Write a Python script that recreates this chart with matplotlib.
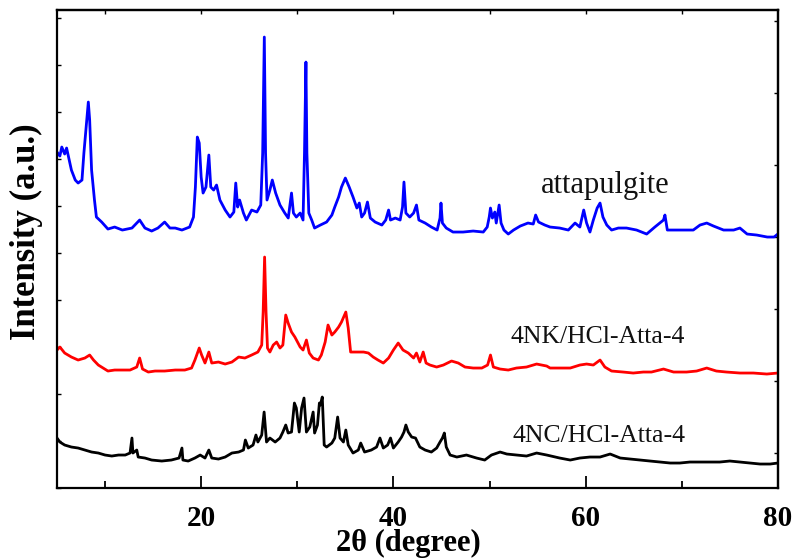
import matplotlib.pyplot as plt
import numpy as np

# 2-theta (degree) and intensity (a.u., arbitrary offset units)
tt_atta = [5.0, 5.3, 5.5, 5.8, 6.0, 6.2, 6.5, 6.9, 7.2, 7.6, 7.8, 8.1, 8.26, 8.4, 8.6, 8.9,
           9.1, 9.65, 10.3, 11.0, 11.8, 12.8, 13.6, 14.15, 14.85, 15.5, 16.2, 16.75, 17.3, 18.0,
           18.8, 19.2, 19.4, 19.6, 19.8, 20.0, 20.2, 20.5, 20.8, 21.0, 21.3, 21.6, 21.95, 22.5,
           23.0, 23.4, 23.6, 23.8, 24.0, 24.4, 24.7, 25.25, 25.8, 26.2, 26.4, 26.57, 26.7, 26.85,
           27.15, 27.4, 27.75, 28.2, 28.7, 29.06, 29.4, 29.6, 29.9, 30.3, 30.6, 30.75, 30.9, 31.0,
           31.2, 31.5, 31.8, 32.4, 33.05, 33.6, 33.9, 34.3, 34.6, 35.0, 35.4, 35.8, 36.2, 36.45,
           36.7, 37.0, 37.3, 37.6, 38.1, 38.8, 39.2, 39.5, 39.7, 40.2, 40.7, 40.95, 41.1, 41.3,
           41.7, 42.1, 42.4, 42.65, 43.3, 43.95, 44.55, 44.85, 44.95, 45.1, 45.5, 46.2, 47.25,
           48.3, 49.35, 49.76, 49.97, 50.1, 50.3, 50.55, 50.7, 51.0, 51.2, 51.5, 51.95, 52.5,
           53.2, 54.0, 54.55, 54.8, 55.1, 55.75, 56.3, 57.3, 58.2, 58.9, 59.4, 59.8, 60.1, 60.45,
           60.8, 61.2, 61.5, 61.8, 62.2, 62.7, 63.4, 64.25, 65.3, 66.35, 67.2, 68.1, 68.25, 68.5,
           69.1, 70.15, 71.2, 71.9, 72.6, 73.3, 74.35, 75.4, 76.05, 76.8, 77.8, 78.9, 79.6, 80.0]
int_atta = [336, 332, 341, 334, 340, 331, 318, 308, 305, 308, 335, 368, 386, 368, 318, 288,
            271, 266, 259, 261, 258, 260, 268, 260, 257, 260, 266, 260, 260, 258,
            261, 271, 301, 351, 345, 311, 295, 301, 333, 301, 298, 303, 288, 278,
            271, 276, 305, 281, 288, 275, 268, 278, 276, 283, 335, 451, 335, 288,
            298, 308, 295, 283, 275, 270, 295, 275, 271, 275, 268, 335, 426, 335,
            275, 268, 260, 263, 266, 273, 281, 291, 301, 310, 301, 291, 280, 285,
            271, 275, 286, 270, 266, 263, 268, 278, 268, 270, 268, 281, 306, 275,
            271, 275, 283, 268, 265, 261, 258, 270, 285, 265, 260, 256, 256,
            257, 256, 261, 271, 280, 270, 276, 265, 283, 265, 258, 254, 258,
            262, 265, 264, 273, 266, 263, 261, 260, 258, 265, 261, 278, 265, 256,
            268, 280, 285, 271, 263, 258, 260, 260, 258, 254, 261, 268, 273, 258,
            258, 258, 258, 263, 265, 262, 258, 258, 260, 254, 253, 251, 251, 254]

tt_nk = [5.0, 5.3, 5.8, 6.5, 7.2, 7.9, 8.4, 8.8, 9.3, 9.8, 10.3, 11.0, 11.7, 12.6, 13.3, 13.6,
         13.9, 14.5, 15.2, 16.2, 17.3, 18.3, 19.0, 19.35, 19.8, 20.05, 20.4, 20.8, 21.1, 21.8,
         22.5, 23.2, 23.9, 24.55, 25.25, 25.9, 26.3, 26.45, 26.6, 26.75, 26.9, 27.15, 27.5,
         27.85, 28.2, 28.5, 28.8, 29.05, 29.4, 29.75, 30.3, 30.6, 30.95, 31.25, 31.65, 32.2,
         32.5, 32.9, 33.2, 33.6, 33.9, 34.3, 34.6, 35.05, 35.3, 35.55, 35.8, 36.3, 36.9, 37.4,
         37.9, 38.4, 38.95, 39.5, 40.0, 40.5, 41.0, 41.55, 42.1, 42.4, 42.75, 43.1, 43.4, 43.8,
         44.5, 45.2, 46.05, 46.75, 47.45, 48.3, 49.2, 49.8, 50.1, 50.4, 51.1, 51.95, 52.8,
         53.85, 54.9, 55.95, 56.3, 57.3, 58.4, 59.4, 60.1, 60.8, 61.5, 62.0, 62.7, 63.9, 64.95,
         66.0, 66.85, 68.1, 69.15, 70.5, 71.55, 72.6, 73.6, 74.65, 76.05, 77.45, 78.85, 80.0]
int_nk = [138, 141, 135, 131, 128, 130, 133, 128, 123, 120, 117, 118, 118, 118, 121, 130,
          119, 116, 117, 117, 118, 118, 120, 128, 140, 133, 125, 136, 125, 126,
          124, 126, 131, 130, 133, 136, 143, 176, 231, 176, 140, 136, 143,
          146, 140, 143, 173, 165, 156, 151, 141, 138, 148, 135, 130, 128,
          133, 146, 163, 153, 156, 161, 166, 176, 160, 136, 136, 136, 136, 135,
          131, 128, 125, 130, 138, 145, 138, 135, 130, 135, 126, 136, 125, 123,
          121, 123, 127, 125, 121, 120, 120, 123, 133, 121, 119, 118, 120,
          121, 124, 122, 120, 120, 120, 123, 124, 123, 128, 121, 117, 116, 115,
          116, 116, 119, 116, 116, 117, 120, 117, 116, 115, 115, 114, 115]

tt_nc = [5.0, 5.3, 5.8, 6.5, 7.2, 7.9, 8.6, 9.3, 10.0, 10.7, 11.4, 12.1, 12.6, 12.8, 12.9,
         13.3, 13.45, 14.15, 14.85, 15.9, 16.9, 17.7, 18.0, 18.1, 18.65, 19.35, 19.9, 20.4,
         20.8, 21.1, 21.8, 22.5, 23.2, 23.9, 24.4, 24.6, 24.9, 25.4, 25.7, 25.9, 26.3, 26.55,
         26.8, 27.15, 27.7, 28.2, 28.5, 28.8, 29.05, 29.4, 29.7, 29.9, 30.2, 30.45, 30.7,
         30.95, 31.3, 31.65, 31.8, 32.1, 32.3, 32.4, 32.6, 32.8, 33.05, 33.6, 33.9, 34.2,
         34.45, 34.8, 35.05, 35.3, 35.8, 36.35, 36.6, 37.0, 37.7, 38.25, 38.6, 38.95, 39.4,
         39.7, 40.0, 40.5, 40.85, 41.1, 41.3, 41.55, 41.9, 42.3, 42.75, 43.3, 43.95, 44.5,
         44.85, 45.1, 45.3, 45.5, 45.9, 46.6, 47.6, 48.65, 49.5, 50.2, 51.1, 51.8, 52.8,
         53.85, 54.9, 55.95, 57.3, 58.4, 59.4, 60.45, 61.5, 62.55, 63.6, 64.6, 65.7, 66.7,
         67.75, 68.8, 69.8, 70.85, 71.9, 72.9, 73.95, 75.0, 76.05, 77.1, 78.15, 79.2, 80.0]
int_nc = [50, 46, 43, 41, 40, 38, 36, 35, 33, 32, 33, 33, 35, 50, 35,
          38, 31, 30, 28, 27, 28, 30, 40, 28, 27, 30, 33, 30,
          38, 30, 29, 31, 35, 36, 38, 48, 40, 43, 53, 46, 53, 76,
          46, 50, 46, 50, 56, 63, 55, 56, 85, 80, 56, 80, 90,
          56, 61, 76, 55, 63, 85, 83, 91, 43, 41, 45, 50, 71,
          50, 46, 58, 43, 35, 38, 45, 36, 38, 41, 50, 40, 43,
          50, 40, 46, 51, 56, 63, 56, 51, 50, 41, 38, 36, 40,
          46, 50, 55, 41, 33, 31, 33, 30, 28, 33, 36, 34, 33,
          32, 35, 33, 30, 28, 30, 31, 31, 34, 30, 29, 28, 27,
          26, 25, 25, 26, 26, 26, 26, 27, 26, 25, 24, 24, 25]

labels = ["attapulgite", "4NK/HCl-Atta-4", "4NC/HCl-Atta-4"]
label_x = [62.0, 61.3, 61.4]
label_y = [303, 151, 52]
label_size = [22, 18.5, 18.5]

fig = plt.figure(figsize=(7.97, 5.58), dpi=100)
ax = fig.add_axes([0.0715, 0.1254, 0.9045, 0.8566])

ax.plot(tt_atta, int_atta, color="#0000ff", lw=2.0)
ax.plot(tt_nk, int_nk, color="#ff0000", lw=2.0)
ax.plot(tt_nc, int_nc, color="black", lw=2.0)

for txt, x, y, s in zip(labels, label_x, label_y, label_size):
    ax.text(x, y, txt, ha="center", va="center", fontsize=s,
            family="Liberation Serif", color="#111111")

ax.set_xlim(5, 80)
ax.set_ylim(0, 478)
ax.set_xticks([20, 40, 60, 80])
ax.set_xticks([10, 30, 50, 70], minor=True)
ax.set_yticks(np.arange(0, 478, 47))
ax.set_yticklabels([])
ax.tick_params(axis="x", which="major", direction="in", length=9, width=1.3, pad=12,
               labelsize=21)
ax.tick_params(axis="x", which="minor", direction="in", length=5, width=1.3)
ax.tick_params(axis="y", which="major", direction="in", length=3, width=1.0)
for lab in ax.get_xticklabels():
    lab.set_family("Liberation Serif")
    lab.set_fontweight("bold")

top = ax.secondary_xaxis("top")
top.set_xticks([10, 20, 30, 40, 50, 60, 70])
top.set_xticklabels([])
top.tick_params(direction="in", length=3, width=1.0)
right = ax.secondary_yaxis("right")
right.set_yticks(np.arange(35, 478, 72))
right.set_yticklabels([])
right.tick_params(direction="in", length=3, width=1.0)

for sp in ax.spines.values():
    sp.set_linewidth(1.6)
top.spines["top"].set_linewidth(1.6)
right.spines["right"].set_linewidth(1.6)

ax.set_xlabel("2θ (degree)", family="Liberation Serif", fontweight="bold", fontsize=22,
              va="center")
ax.xaxis.set_label_coords(0.487, -0.117)
ax.set_ylabel("Intensity (a.u.)", family="Liberation Serif", fontweight="bold", fontsize=25,
              va="center")
ax.yaxis.set_label_coords(-0.043, 0.536)

fig.savefig("out.png", dpi=100)
